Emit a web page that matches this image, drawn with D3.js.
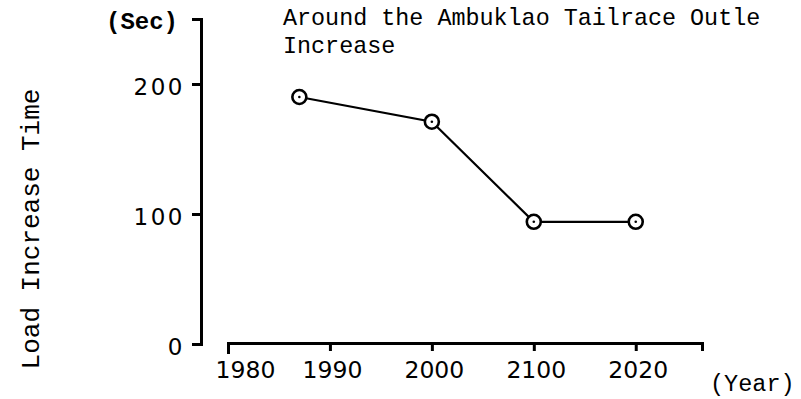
<!DOCTYPE html>
<html>
<head>
<meta charset="utf-8">
<script src="https://cdn.jsdelivr.net/npm/d3@7/dist/d3.min.js"></script>
<style>
  html, body { margin: 0; padding: 0; background: #fff; }
  svg { display: block; }
</style>
</head>
<body>
<svg id="chart" width="801" height="399"></svg>
<script>
// Load increase time by year
const years = [1987, 2000, 2010, 2020];
const loadTime = [190, 171, 94, 94];

const xTickValues = [1980, 1990, 2000, 2010, 2020];
const xTickLabels = ["1980", "1990", "2000", "2100", "2020"];
const yTickValues = [0, 100, 200];

const titleLines = ["Around the Ambuklao Tailrace Outle", "Increase"];
const yTitle = "Load Increase Time";
const yUnit = "(Sec)";
const xUnit = "(Year)";

const svg = d3.select("#chart");
const ink = "#000";
const mono = "'Liberation Mono', 'DejaVu Sans Mono', monospace";
const sans = "'DejaVu Sans', sans-serif";

const x = d3.scaleLinear().domain([1980, 2026.5]).range([228, 702]);
const y = d3.scaleLinear().domain([0, 250]).range([344, 19]);

// x axis: starts at 1980, detached from the y axis
const xAxis = svg.append("g")
  .attr("transform", "translate(0,343)")
  .call(d3.axisBottom(x)
    .tickValues(xTickValues)
    .tickFormat((d, i) => xTickLabels[i])
    .tickSizeOuter(0)
    .tickSize(8)
    .tickPadding(10));
xAxis.select(".domain").attr("stroke", ink).attr("stroke-width", 3);
xAxis.selectAll(".tick line").attr("stroke", ink).attr("stroke-width", 3);
xAxis.selectAll(".tick").filter(d => d === 1980).select("line").attr("y2", 11);
xAxis.selectAll(".tick text")
  .attr("fill", ink)
  .attr("font-family", sans)
  .attr("font-size", 23.5)
  .attr("dy", "0.71em")
  .attr("dx", d => d === 1980 ? 17 : 2);

// y axis
const yAxis = svg.append("g")
  .attr("transform", "translate(201,0)")
  .call(d3.axisLeft(y)
    .tickValues(yTickValues)
    .tickSizeOuter(0)
    .tickSize(9)
    .tickPadding(7));
yAxis.select(".domain").attr("stroke", ink).attr("stroke-width", 3);
yAxis.selectAll(".tick line").attr("stroke", ink).attr("stroke-width", 3);
yAxis.selectAll(".tick text")
  .attr("fill", ink)
  .attr("font-family", sans)
  .attr("font-size", 23)
  .attr("letter-spacing", 2.5)
  .attr("dy", "0.45em");

// data line with open circle markers
const pts = years.map((yr, i) => ({ yr, v: loadTime[i] }));
svg.append("path")
  .datum(pts)
  .attr("fill", "none")
  .attr("stroke", ink)
  .attr("stroke-width", 2.2)
  .attr("d", d3.line().x(d => x(d.yr)).y(d => y(d.v)));

const marks = svg.append("g").selectAll("g").data(pts).join("g")
  .attr("transform", d => `translate(${x(d.yr)},${y(d.v)})`);
marks.append("circle").attr("r", 7)
  .attr("fill", "#fff").attr("stroke", ink).attr("stroke-width", 2.6);
marks.append("circle").attr("r", 1.3).attr("fill", ink);

// titles and units
svg.append("g").selectAll("text").data(titleLines).join("text")
  .attr("x", 283)
  .attr("y", (d, i) => 25 + i * 28)
  .attr("font-family", mono)
  .attr("font-size", 23.4)
  .attr("fill", ink)
  .text(d => d);

svg.append("text")
  .attr("x", 106).attr("y", 29)
  .attr("font-family", mono).attr("font-size", 24)
  .attr("font-weight", "bold")
  .attr("fill", ink)
  .text(yUnit);

svg.append("text")
  .attr("x", 710).attr("y", 391)
  .attr("font-family", mono).attr("font-size", 23.5)
  .attr("fill", ink)
  .text(xUnit);

svg.append("text")
  .attr("transform", "translate(39,229) rotate(-90)")
  .attr("text-anchor", "middle")
  .attr("font-family", mono).attr("font-size", 26)
  .attr("fill", ink)
  .text(yTitle);
</script>
</body>
</html>
